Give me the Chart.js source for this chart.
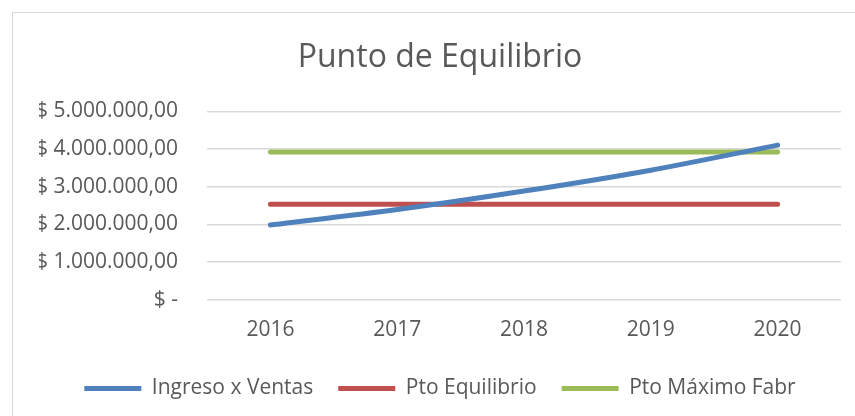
<!DOCTYPE html>
<html>
<head>
<meta charset="utf-8">
<script src="https://cdn.jsdelivr.net/npm/chart.js@4"></script>
<style>
    html, body { margin: 0; padding: 0; background: #fff; }
    #wrap { width: 855px; height: 416px; }
</style>
</head>
<body>
<div id="wrap"><canvas id="chart" width="855" height="416"></canvas></div>
<script>
const years = ['2016', '2017', '2018', '2019', '2020'];
const ingresoVentas = [1984000, 2395000, 2885000, 3440000, 4105000];
const ptoEquilibrio = [2537000, 2537000, 2537000, 2537000, 2537000];
const ptoMaximoFabr = [3920000, 3920000, 3920000, 3920000, 3920000];
const yTicks = [0, 1000000, 2000000, 3000000, 4000000, 5000000];

const FONT = "'Open Sans', sans-serif";
const TEXT = '#595959';

function money(v) {
    if (v === 0) return '$ -';
    const s = Math.round(v).toString().replace(/\B(?=(\d{3})+(?!\d))/g, '.');
    return `$ ${s},00`;
}

// thin grey frame like the spreadsheet chart box
const frame = {
    id: 'frame',
    beforeDraw(chart) {
        const ctx = chart.ctx;
        ctx.save();
        ctx.strokeStyle = '#d9d9d9';
        ctx.lineWidth = 1;
        ctx.strokeRect(12.5, 12.5, 900, 500);
        ctx.restore();
    }
};

function series(label, data, color) {
    return {
        label,
        data,
        borderColor: color,
        backgroundColor: color,
        borderWidth: 5,
        borderCapStyle: 'round',
        pointRadius: 0,
        pointHoverRadius: 0,
        pointStyle: 'line',
        tension: 0.3,
        fill: false
    };
}

new Chart(document.getElementById('chart'), {
    type: 'line',
    data: {
        labels: years,
        datasets: [
            series('Ingreso x Ventas', ingresoVentas, '#4F81BD'),
            series('Pto Equilibrio', ptoEquilibrio, '#C0504D'),
            series('Pto Máximo Fabr', ptoMaximoFabr, '#9BBB59')
        ]
    },
    options: {
        responsive: false,
        animation: false,
        layout: { padding: { left: 39, right: 14, top: 25, bottom: 7 } },
        plugins: {
            tooltip: { enabled: false },
            title: {
                display: true,
                text: 'Punto de Equilibrio',
                color: TEXT,
                font: { family: FONT, size: 32, weight: 'normal' },
                padding: { top: 14, bottom: 34 }
            },
            legend: {
                position: 'bottom',
                labels: {
                    color: TEXT,
                    font: { family: FONT, size: 21 },
                    usePointStyle: true,
                    pointStyleWidth: 57,
                    padding: 25
                }
            }
        },
        scales: {
            x: {
                offset: true,
                grid: { display: false },
                border: { display: false },
                ticks: {
                    color: TEXT,
                    font: { family: FONT, size: 21 },
                    padding: 10
                }
            },
            y: {
                min: 0,
                max: 5000000,
                afterBuildTicks: axis => {
                    axis.ticks = yTicks.map(value => ({ value }));
                },
                afterFit: axis => {
                    axis.width = 168;
                },
                grid: { color: '#d9d9d9', lineWidth: 1.5, drawTicks: false },
                border: { display: false },
                ticks: {
                    color: TEXT,
                    font: { family: FONT, size: 21 },
                    padding: 29,
                    callback: v => money(v)
                }
            }
        }
    },
    plugins: [frame]
});
</script>
</body>
</html>
